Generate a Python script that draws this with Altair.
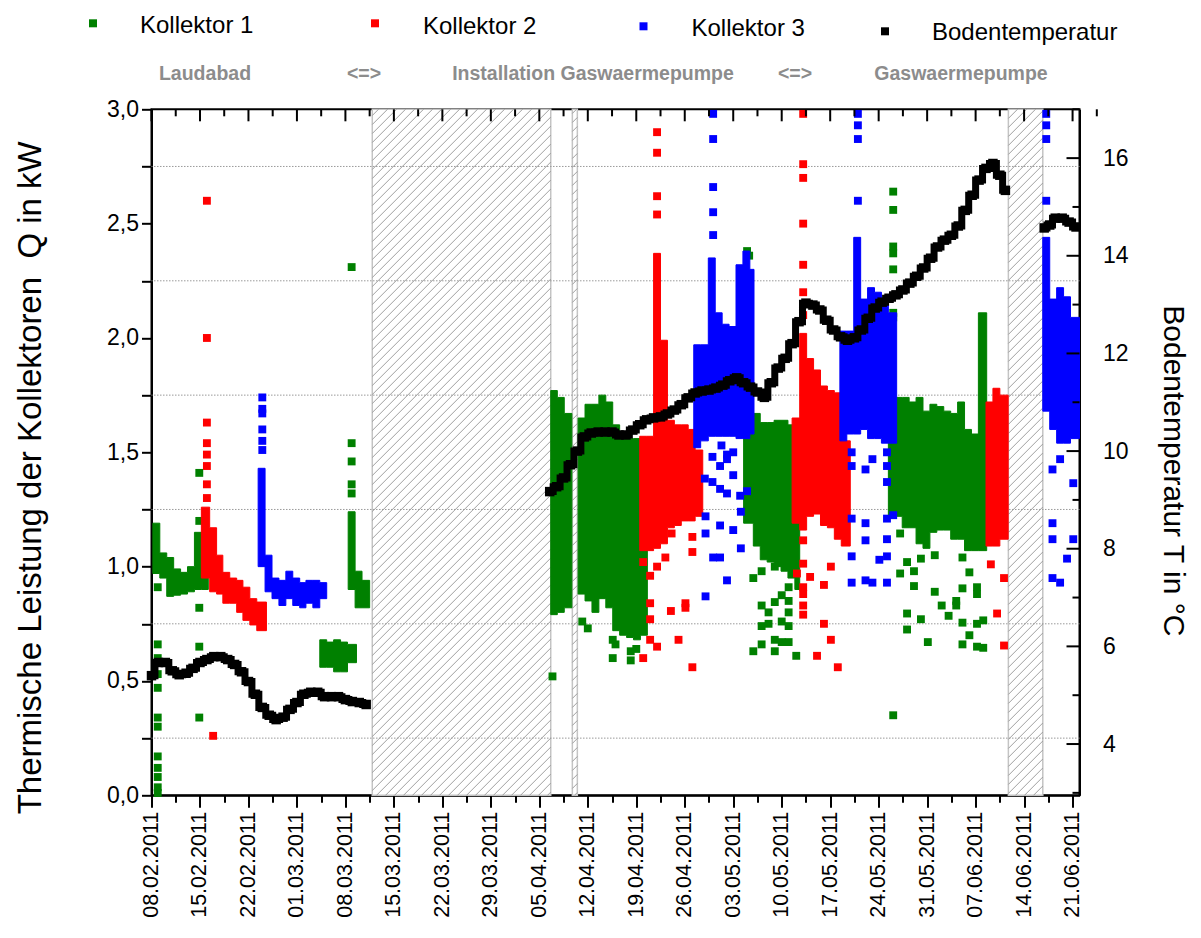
import altair as alt
import numpy as np
import pandas as pd

# ---------------- layout constants ----------------
W, H = 928, 686
X_DOM = [0, 134]          # days after 08.02.2011
Q_DOM = [0.0, 3.0]        # kW
T_DOM = [2.95, 17.0]      # deg C
FONT = "Liberation Sans"
C_K1, C_K2, C_K3, C_T = "#008000", "#ff0000", "#0000ff", "#000000"

# ---------------- data (days after 08.02.2011) ----------------
# Bodentemperatur
t_day = [0, 1, 2, 3, 4, 5, 6, 7, 8, 9, 10, 11, 12, 13, 14, 15, 16, 17, 18, 19, 20,
         21, 22, 23, 24, 25, 26, 27, 28, 29, 30, 31,
         57.5, 58.5, 59.5, 60.5, 61.5, 62.5, 63.5, 64.5, 65.5, 66.5, 67.5, 68.5,
         69.5, 70.5, 71.5, 72.5, 73.5, 74.5, 75.5, 76.5, 77.5, 78.5, 79.5, 80.5,
         81.5, 82.5, 83.5, 84.5, 85.5, 86.5, 87.5, 88.5, 89.5, 90.5, 91.5, 92.5,
         93.5, 94.5, 95.5, 96.5, 97.5, 98.5, 99.5, 100.5, 101.5, 102.5, 103.5,
         104.5, 105.5, 106.5, 107.5, 108.5, 109.5, 110.5, 111.5, 112.5, 113.5,
         114.5, 115.5, 116.5, 117.5, 118.5, 119.5, 120.5, 121.5, 122.5, 123.3,
         128.9, 129.7, 130.5, 131.5, 132.5, 133.5]
t_val = [5.40, 5.67, 5.67, 5.50, 5.42, 5.45, 5.55, 5.67, 5.73, 5.79, 5.79, 5.73,
         5.63, 5.48, 5.28, 5.02, 4.75, 4.59, 4.50, 4.55, 4.71, 4.85, 5.02, 5.06,
         5.06, 4.97, 4.97, 4.97, 4.91, 4.87, 4.85, 4.81,
         9.17, 9.27, 9.45, 9.72, 10.00, 10.29, 10.37, 10.39, 10.39, 10.39, 10.33,
         10.33, 10.43, 10.54, 10.64, 10.68, 10.70, 10.76, 10.84, 10.95, 11.09,
         11.19, 11.23, 11.25, 11.29, 11.35, 11.44, 11.50, 11.40, 11.31, 11.21,
         11.10, 11.40, 11.70, 11.90, 12.20, 12.65, 13.03, 12.99, 12.89, 12.68,
         12.48, 12.34, 12.27, 12.32, 12.48, 12.72, 12.93, 13.05, 13.13, 13.20,
         13.30, 13.44, 13.58, 13.75, 13.95, 14.18, 14.32, 14.42, 14.61, 14.93,
         15.24, 15.55, 15.79, 15.89, 15.65, 15.34,
         14.57, 14.63, 14.77, 14.77, 14.69, 14.59]
# measurement campaign of each temperature value (breaks the line at the pauses)
t_run = [1] * 32 + [2] * 67 + [3] * 6

# Kollektor 1 (dense clouds: day ranges with low/high power)
k1_band_start = [0.2, 1.2, 2.2, 3.2, 4.2, 5.2, 6.2, 7.2,
                 24.3, 25.3, 26.3, 27.3, 28.3,
                 28.4, 29.4, 30.4,
                 57.65, 58.6, 59.6,
                 61.6, 62.6, 63.6, 64.6, 65.6, 66.6, 67.6, 68.6, 69.6, 70.6,
                 85.5, 86.9, 87.9, 88.9, 89.9, 90.9, 91.9, 92.9,
                 106.4, 107.4, 108.4, 109.4, 110.4, 111.4, 112.4, 113.4, 114.4,
                 115.4, 116.4, 117.4, 118.4, 119.4]
k1_band_end = [1.2, 2.2, 3.2, 4.2, 5.2, 6.2, 7.2, 8.2,
               25.3, 26.3, 27.3, 28.3, 29.6,
               29.4, 30.4, 31.5,
               58.6, 59.6, 60.7,
               62.6, 63.6, 64.6, 65.6, 66.6, 67.6, 68.6, 69.6, 70.6, 71.6,
               86.9, 87.9, 88.9, 89.9, 90.9, 91.9, 92.9, 93.6,
               107.4, 108.4, 109.4, 110.4, 111.4, 112.4, 113.4, 114.4, 115.4,
               116.4, 117.4, 118.4, 119.4, 120.6]
k1_band_lo = [0.97, 0.95, 0.87, 0.875, 0.88, 0.89, 0.90, 0.90,
              0.56, 0.56, 0.54, 0.54, 0.58,
              0.90, 0.82, 0.82,
              0.79, 0.80, 0.82,
              0.88, 0.85, 0.80, 0.86, 0.82, 0.72, 0.70, 0.69, 0.68, 0.70,
              1.19, 1.09, 1.03, 1.02, 1.00, 0.98, 0.95, 0.90,
              1.22, 1.22, 1.17, 1.17, 1.10, 1.08, 1.15, 1.16, 1.16, 1.12, 1.12,
              1.07, 1.07, 1.07]
k1_band_hi = [1.19, 1.06, 1.04, 0.99, 0.975, 1.00, 1.15, 1.10,
              0.68, 0.67, 0.68, 0.67, 0.66,
              1.24, 0.98, 0.94,
              1.77, 1.74, 1.67,
              1.65, 1.71, 1.71, 1.75, 1.72, 1.62, 1.58, 1.56, 1.56, 1.20,
              1.60, 1.67, 1.63, 1.63, 1.64, 1.64, 1.62, 1.20,
              2.10, 1.74, 1.74, 1.72, 1.74, 1.68, 1.71, 1.70, 1.68, 1.67, 1.72,
              1.60, 1.58, 2.11]
k1_pt_day = [0.9, 0.9, 0.9, 0.9, 0.9, 0.9, 0.9, 0.9, 0.9, 0.9, 0.9, 0.9,
             6.9, 6.9, 6.9, 6.9, 6.9,
             28.9, 28.9, 28.9, 28.9, 28.9,
             57.9, 62.2, 63.0, 66.6, 66.6, 67.0, 69.2, 69.2, 70.0,
             86.0, 86.3,
             86.9, 86.9, 88.1, 88.1, 88.1, 88.1, 89.1, 89.1, 90.0, 90.0, 90.0, 90.0,
             91.0, 91.0, 91.0, 92.0, 92.0, 92.0, 92.0, 92.0, 93.1,
             107.1, 107.1, 107.1, 107.1, 107.1, 107.1, 107.1,
             107.1, 108.1, 108.1, 109.1, 109.1, 109.1, 110.1, 110.1, 111.1, 111.1,
             112.1, 113.1, 113.1, 114.1, 115.1, 116.2, 116.2, 117.1, 117.1, 117.1,
             117.1, 118.1, 118.1, 119.2, 119.2, 119.2, 119.2, 120.1, 120.1]
k1_pt_val = [0.91, 0.66, 0.60, 0.53, 0.47, 0.34, 0.30, 0.17, 0.12, 0.08, 0.035, 0.01,
             1.41, 1.20, 0.82, 0.65, 0.34,
             2.31, 1.54, 1.46, 1.36, 1.32,
             0.52, 0.76, 0.73, 0.68, 0.60, 0.66, 0.59, 0.63, 0.64,
             2.38, 2.36,
             0.95, 0.63, 0.98, 0.83, 0.74, 0.66, 0.80, 0.75, 1.00, 0.845, 0.68, 0.63,
             0.875, 0.76, 0.67, 0.91, 0.85, 0.80, 0.74, 0.67, 0.61,
             2.64, 2.56, 2.40, 2.37, 2.30, 2.11, 2.09,
             0.35, 1.145, 0.97, 1.02, 0.795, 0.725, 0.98, 0.915, 1.035, 0.77,
             0.67, 1.05, 0.89, 0.83, 0.785, 0.85, 0.83, 1.04, 0.905, 0.755,
             0.66, 0.975, 0.70, 0.91, 0.88, 0.75, 0.65, 0.765, 0.645]

# Kollektor 2
k2_band_start = [7.2, 8.4, 9.4, 10.3, 11.3, 12.3, 13.2, 14.2, 15.2,
                 70.5, 71.5, 72.5, 73.5, 74.5, 75.5, 76.5, 77.5, 78.5,
                 92.5, 93.6, 94.6, 95.6, 96.6, 97.6, 98.6, 99.6,
                 120.5, 121.5, 122.5]
k2_band_end = [8.4, 9.4, 10.3, 11.3, 12.3, 13.2, 14.2, 15.2, 16.6,
               71.5, 72.5, 73.5, 74.5, 75.5, 76.5, 77.5, 78.5, 79.6,
               93.6, 94.6, 95.6, 96.6, 97.6, 98.6, 99.6, 100.9,
               121.5, 122.5, 123.7]
k2_band_lo = [0.95, 0.89, 0.88, 0.84, 0.84, 0.80, 0.765, 0.745, 0.72,
              1.07, 1.07, 1.08, 1.10, 1.17, 1.18, 1.20, 1.20, 1.22,
              1.19, 1.16, 1.22, 1.23, 1.18, 1.17, 1.12, 1.09,
              1.09, 1.09, 1.12]
k2_band_hi = [1.26, 1.17, 1.05, 0.975, 0.95, 0.94, 0.91, 0.86, 0.845,
              1.57, 1.57, 2.37, 1.99, 1.64, 1.62, 1.62, 1.60, 1.51,
              1.65, 2.02, 1.91, 1.86, 1.79, 1.77, 1.76, 1.55,
              1.72, 1.78, 1.75]
k2_pt_day = [8.0, 8.0, 8.0, 8.0, 8.0, 8.0, 8.0, 8.0, 8.9,
             73.0, 73.0, 73.0, 73.0,
             71.0, 72.0, 72.0, 72.0, 72.0, 71.0, 73.0, 73.0, 74.2, 75.0, 76.1,
             77.1, 77.1, 78.1, 78.1, 78.1, 75.1,
             94.1, 94.1, 94.1, 94.1, 94.1, 94.1, 94.1,
             94.1, 94.1, 94.1, 94.1, 94.1, 94.1, 93.2, 95.1, 97.1, 97.1, 98.1,
             98.1, 96.1, 99.1,
             121.2, 123.1, 122.1, 123.1]
k2_pt_val = [2.60, 2.00, 1.63, 1.54, 1.49, 1.44, 1.36, 1.30, 0.26,
             2.90, 2.81, 2.62, 2.54,
             1.02, 0.96, 0.84, 0.77, 0.68, 0.60, 1.00, 0.65, 1.04, 0.806, 0.68,
             0.84, 0.82, 1.13, 1.064, 0.56, 1.145,
             2.98, 2.76, 2.70, 2.50, 2.32, 2.20, 2.10,
             1.115, 1.013, 0.91, 0.88, 0.83, 0.79, 0.97, 0.955, 0.92, 0.75, 1.00,
             0.68, 0.61, 0.56,
             1.01, 0.95, 0.795, 0.655]

# Kollektor 3
k3_band_start = [15.4, 16.4, 17.4, 18.4, 19.4, 20.4, 21.4, 22.3, 23.3, 24.3,
                 78.3, 79.3, 80.4, 81.4, 82.4, 83.4, 84.4, 85.4, 86.4,
                 99.4, 100.4, 101.4, 102.4, 103.4, 104.4, 105.4, 106.4,
                 128.7, 129.7, 130.7, 131.7, 132.7]
k3_band_end = [16.4, 17.4, 18.4, 19.4, 20.4, 21.4, 22.3, 23.3, 24.3, 25.3,
               79.3, 80.4, 81.4, 82.4, 83.4, 84.4, 85.4, 86.4, 87.0,
               100.4, 101.4, 102.4, 103.4, 104.4, 105.4, 106.4, 107.6,
               129.7, 130.7, 131.7, 132.7, 134.0]
k3_band_lo = [1.00, 0.89, 0.86, 0.83, 0.86, 0.83, 0.82, 0.84, 0.82, 0.86,
              1.52, 1.55, 1.57, 1.57, 1.57, 1.57, 1.56, 1.56, 1.58,
              1.55, 1.58, 1.58, 1.60, 1.56, 1.56, 1.54, 1.54,
              1.68, 1.60, 1.54, 1.54, 1.56]
k3_band_hi = [1.43, 1.05, 0.95, 0.94, 0.98, 0.95, 0.93, 0.94, 0.94, 0.93,
              1.97, 1.97, 2.35, 2.11, 2.06, 2.05, 2.32, 2.38, 2.30,
              2.03, 2.03, 2.44, 2.17, 2.22, 2.20, 2.15, 2.11,
              2.44, 2.17, 2.22, 2.18, 2.09]
k3_pt_day = [16.0, 16.0, 16.0, 16.0, 16.0, 16.0,
             81.1, 81.1, 81.1, 81.1, 81.1,
             79.9, 81.0, 81.0, 82.1, 82.1, 82.1, 83.1, 83.1, 83.1, 84.0, 84.0, 84.0,
             80.0, 80.0, 80.0, 81.1, 82.1, 85.0, 85.1, 85.1, 86.0, 82.3, 83.1,
             102.0, 102.0, 102.0, 102.0,
             101.1, 101.1, 101.1, 101.1, 101.1, 103.1, 103.1, 103.1, 103.1, 104.1,
             104.1, 105.1, 106.2, 106.2, 106.2, 106.2, 106.2, 106.2, 106.2, 107.1,
             129.2, 129.2, 129.2, 129.2,
             130.1, 130.1, 130.1, 130.1, 131.2, 131.2, 132.2, 133.1, 133.1]
k3_pt_val = [1.74, 1.69, 1.67, 1.60, 1.55, 1.51,
             2.98, 2.87, 2.66, 2.55, 2.45,
             1.385, 1.48, 1.37, 1.44, 1.34, 1.18, 1.47, 1.32, 0.94, 1.50, 1.40, 1.16,
             1.22, 1.145, 0.87, 1.04, 1.04, 1.31, 1.24, 1.08, 1.33, 1.53, 1.49,
             2.98, 2.93, 2.87, 2.60,
             1.50, 1.44, 1.21, 1.045, 0.93, 1.425, 1.19, 1.115, 0.94, 1.47,
             0.93, 1.03, 1.50, 1.44, 1.37, 1.21, 1.12, 1.045, 0.93, 1.225,
             2.98, 2.93, 2.87, 2.60,
             1.425, 1.19, 1.12, 0.95, 1.47, 0.93, 1.035, 1.365, 1.12]

# periods without measurement (hatched)
gap_start = [31.88, 60.77, 123.73]
gap_end = [57.65, 61.49, 128.70]

# axis ticks / grid
x_ticks_major = list(range(0, 134, 7))
x_ticks_minor = [v + 3.5 for v in range(0, 134, 7)]
q_ticks = [i * 0.25 for i in range(13)]
q_grid = [0.25, 0.75, 1.25, 1.75, 2.25, 2.75]
t_labels = [4, 6, 8, 10, 12, 14, 16]
t_minor = [3, 5, 7, 9, 11, 13, 15, 17]

legend_labels = ["Kollektor 1", "Kollektor 2", "Kollektor 3", "Bodentemperatur"]
legend_colors = [C_K1, C_K2, C_K3, C_T]
phase_labels = ["Laudabad", "<=>", "Installation Gaswaermepumpe", "<=>", "Gaswaermepumpe"]

# ---------------- helpers ----------------
x_axis = alt.Axis(
    orient="bottom", values=x_ticks_major + x_ticks_minor,
    labelExpr="datum.value % 7 == 0 ? timeFormat(datetime(2011, 1, 8 + datum.value), '%d.%m.%Y') : ''",
    labelAngle=270, labelAlign="right", labelBaseline="middle",
    labelFontSize=21.5, labelPadding=4, labelOverlap=False, labelFlush=False,
    tickSize={"condition": {"test": "datum.value % 7 == 0", "value": 12}, "value": 7},
    tickWidth=2, tickColor="black", domainWidth=2, domainColor="black",
    grid=False, title=None, labelColor="black")
X = alt.X("d:Q", scale=alt.Scale(domain=X_DOM, nice=False, zero=False), axis=x_axis)

q_axis = alt.Axis(
    orient="left", values=q_ticks,
    labelExpr="datum.value % 0.5 == 0 ? replace(format(datum.value, '.1f'), '.', ',') : ''",
    labelFontSize=23, labelPadding=3, labelOverlap=False, labelFlush=False,
    tickSize=10, tickWidth=2, tickColor="black", domainWidth=2, domainColor="black",
    grid=False, labelColor="black",
    title="Thermische Leistung der Kollektoren\u00a0 Q in kW",
    titleFontSize=33, titleFontWeight="normal", titleColor="black",
    titleAngle=270, titleAlign="center", titleBaseline="middle",
    titleX=-121.5, titleY=368)
Q_SCALE = alt.Scale(domain=Q_DOM, nice=False, zero=False)

t_axis = alt.Axis(
    orient="right", values=t_labels, format="d",
    labelFontSize=23, labelPadding=23, labelOverlap=False, labelFlush=False,
    tickSize=0, domainWidth=2, domainColor="black", grid=False, labelColor="black",
    title="Bodentemperatur T in °C",
    titleFontSize=30, titleFontWeight="normal", titleColor="black",
    titleAngle=90, titleAlign="center", titleBaseline="middle",
    titleX=93, titleY=361)
T_SCALE = alt.Scale(domain=T_DOM, nice=False, zero=False)


def qy(field):
    return alt.Y(field, scale=Q_SCALE, axis=q_axis)


def band_layer(start, end, lo, hi, color):
    # consecutive day ranges form one cloud; each cloud is one stepped area
    rows, grp, prev_end, last = [], 0, None, None
    for s, e, a, b in zip(start, end, lo, hi):
        if prev_end is None or abs(s - prev_end) > 1e-9:
            if prev_end is not None:
                rows.append((prev_end, last[0], last[1], grp))
            grp += 1
        rows.append((s, a, b, grp))
        prev_end, last = e, (a, b)
    rows.append((prev_end, last[0], last[1], grp))
    df = pd.DataFrame(rows, columns=["d", "lo", "hi", "grp"])
    return alt.Chart(df).mark_area(
        color=color, interpolate="step-after", opacity=1,
        stroke=color, strokeWidth=1).encode(
        x=X, y=qy("lo:Q"), y2="hi:Q", detail="grp:N")


def point_layer(day, val, color):
    df = pd.DataFrame({"d": day, "v": val})
    return alt.Chart(df).mark_square(size=62, color=color, opacity=1).encode(
        x=X, y=qy("v:Q"))


def hatch_lines(starts, ends, spacing=9.0):
    ppd = W / (X_DOM[1] - X_DOM[0])
    ppk = H / (Q_DOM[1] - Q_DOM[0])
    rows = []
    for a, b in zip(starts, ends):
        xa, xb = (a - X_DOM[0]) * ppd, (b - X_DOM[0]) * ppd
        c = np.floor((xa - H) / spacing) * spacing
        while c < xb:
            x1, x2 = max(xa, c), min(xb, c + H)
            if x2 > x1:
                rows.append((x1 / ppd + X_DOM[0], (x1 - c) / ppk,
                             x2 / ppd + X_DOM[0], (x2 - c) / ppk))
            c += spacing
    return pd.DataFrame(rows, columns=["d", "ya", "d2", "yb"])


# ---------------- kW layers ----------------
gaps = alt.Chart(pd.DataFrame({"d": gap_start, "d2": gap_end})).mark_rect(
    fill="white", stroke="#c4c4c4", strokeWidth=1.5).encode(x=X, x2="d2:Q")
hatch = alt.Chart(hatch_lines(gap_start, gap_end)).mark_rule(
    color="#959595", strokeWidth=0.9).encode(x=X, x2="d2:Q", y=qy("ya:Q"), y2="yb:Q")
grid = alt.Chart(pd.DataFrame({"g": q_grid})).mark_rule(
    color="#9a9a9a", strokeWidth=1, strokeDash=[1.5, 1.5]).encode(y=qy("g:Q"))
top_major = alt.Chart(pd.DataFrame({"d": x_ticks_major})).mark_rule(
    color="black", strokeWidth=2).encode(x=X, y=alt.value(0), y2=alt.value(12))
top_minor = alt.Chart(pd.DataFrame({"d": x_ticks_minor})).mark_rule(
    color="black", strokeWidth=2).encode(x=X, y=alt.value(0), y2=alt.value(7))

q_layers = [gaps, hatch, grid,
            band_layer(k1_band_start, k1_band_end, k1_band_lo, k1_band_hi, C_K1),
            point_layer(k1_pt_day, k1_pt_val, C_K1),
            band_layer(k2_band_start, k2_band_end, k2_band_lo, k2_band_hi, C_K2),
            point_layer(k2_pt_day, k2_pt_val, C_K2),
            band_layer(k3_band_start, k3_band_end, k3_band_lo, k3_band_hi, C_K3),
            point_layer(k3_pt_day, k3_pt_val, C_K3),
            top_major, top_minor]

# legend (manual, as in the original)
leg_sq_x = [-58.5, 223.5, 492, 733.5]
leg_sq_y = [-86, -86, -83, -78]
leg_tx_x = [-11.5, 271.5, 540, 780.5]
leg_tx_y = [-83, -82, -80, -76]
for lab, col, sx, sy, tx, ty in zip(legend_labels, legend_colors, leg_sq_x, leg_sq_y,
                                    leg_tx_x, leg_tx_y):
    one = pd.DataFrame({"t": [lab]})
    q_layers.append(alt.Chart(one).mark_square(size=64, color=col, opacity=1).encode(
        x=alt.value(sx), y=alt.value(sy)))
    q_layers.append(alt.Chart(one).mark_text(
        font=FONT, fontSize=24, align="left", baseline="middle", color="black").encode(
        text="t:N", x=alt.value(tx), y=alt.value(ty)))

phase_x = [53.5, 212.5, 441.5, 643.5, 809.5]
for lab, px in zip(phase_labels, phase_x):
    q_layers.append(alt.Chart(pd.DataFrame({"t": [lab]})).mark_text(
        font=FONT, fontSize=19.5, fontWeight="bold", align="center", baseline="middle",
        color="#8c8c8c").encode(text="t:N", x=alt.value(px), y=alt.value(-35)))

q_group = alt.layer(*q_layers)

# ---------------- temperature layers ----------------
ty = alt.Y("t:Q", scale=T_SCALE, axis=t_axis)
temp_df = pd.DataFrame({"d": t_day, "t": t_val, "run": t_run})
temp_line = alt.Chart(temp_df).mark_line(
    color=C_T, strokeWidth=7, interpolate="step").encode(x=X, y=ty, detail="run:N")
temp = alt.Chart(temp_df).mark_square(size=90, color=C_T, opacity=1).encode(x=X, y=ty)
rt_major = alt.Chart(pd.DataFrame({"t": t_labels})).mark_rule(
    color="black", strokeWidth=2).encode(y=ty, x=alt.value(W - 13), x2=alt.value(W))
rt_minor = alt.Chart(pd.DataFrame({"t": t_minor})).mark_rule(
    color="black", strokeWidth=2).encode(y=ty, x=alt.value(W - 7), x2=alt.value(W))
t_group = alt.layer(temp_line, temp, rt_major, rt_minor)

chart = alt.layer(q_group, t_group).resolve_scale(y="independent").properties(
    width=W, height=H,
    autosize=alt.AutoSizeParams(type="none"),
    padding={"left": 143.5, "top": 101.3, "right": 113.5, "bottom": 126.7},
).configure_view(stroke="black", strokeWidth=2).configure_axis(
    labelFont=FONT, titleFont=FONT).configure_text(font=FONT)

chart.save("out.html", embed_options={"renderer": "svg", "actions": False})
